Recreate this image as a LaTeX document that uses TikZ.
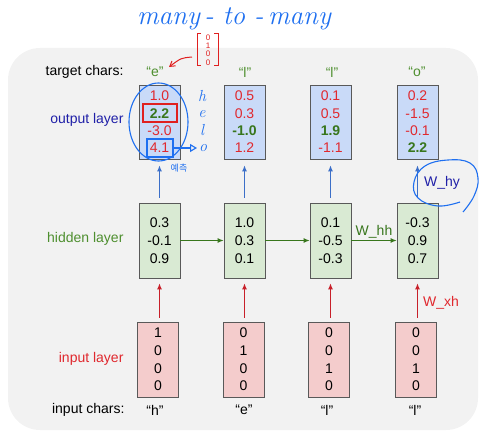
\documentclass[tikz,border=0pt]{standalone}
\usepackage{fontspec}
\setmainfont{Liberation Sans}
\newfontfamily\hand{Latin Modern Roman}
\newfontfamily\kr{Noto Sans CJK KR}
\usetikzlibrary{arrows.meta}
\definecolor{bggray}{HTML}{F2F2F2}
\definecolor{boxline}{HTML}{595959}
\definecolor{outblue}{HTML}{C9DAF8}
\definecolor{hidgreen}{HTML}{D9EAD3}
\definecolor{inpink}{HTML}{F4CCCC}
\definecolor{valred}{HTML}{E0282E}
\definecolor{valgreen}{HTML}{38761D}
\definecolor{lblblue}{HTML}{2020A8}
\definecolor{lblgreen}{HTML}{4E8F2F}
\definecolor{arrblue}{HTML}{3C6FC8}
\definecolor{arrred}{HTML}{C8202A}
\definecolor{hblue}{HTML}{1E6FF0}
\definecolor{hred}{HTML}{E02020}
\newcommand\rv[1]{\textcolor{valred}{#1}}
\newcommand\gv[1]{\textcolor{valgreen}{\textbf{#1}}}
\tikzset{
  box/.style={draw=boxline, line width=0.8pt, minimum width=41pt, inner sep=0pt, align=center},
  obox/.style={box, fill=outblue, minimum height=74pt, font=\fontsize{14}{17.3}\selectfont},
  hbox/.style={box, fill=hidgreen, minimum height=75pt, font=\fontsize{14}{18}\selectfont},
  ibox/.style={box, fill=inpink, minimum height=75pt, font=\fontsize{14}{17.6}\selectfont},
  lbl/.style={anchor=east, font=\fontsize{14}{17}\selectfont},
  chr/.style={font=\fontsize{14}{17}\selectfont},
  barr/.style={draw=arrblue, line width=0.9pt, -{Latex[length=6pt,width=5pt]}},
  rarr/.style={draw=arrred, line width=0.9pt, -{Latex[length=6pt,width=5pt]}},
  garr/.style={draw=valgreen, line width=0.9pt, -{Latex[length=6pt,width=5pt]}},
  handb/.style={draw=hblue, line width=1.1pt},
  handr/.style={draw=hred, line width=1.1pt},
  handtxt/.style={text=hblue, font=\hand\itshape\fontsize{16}{16}\selectfont, inner sep=0pt}
}
\begin{document}
\begin{tikzpicture}[x=1pt,y=-1pt]
\useasboundingbox (0,0) rectangle (492,444);
\fill[bggray, rounded corners=32pt] (8,48) rectangle (478,430);

% left labels
\node[lbl] (lt) at (127,72) {target chars:};
\node[lbl, text=lblblue] (lo) at (127,120) {output layer};
\node[lbl, text=lblgreen] (lh) at (127,239) {hidden layer};
\node[lbl, text=valred] (li) at (127,359) {input layer};
\node[lbl] (lc) at (128,410) {input chars:};

% target chars
\node[chr, text=lblgreen] (t1) at (155,72) {“e”};
\node[chr, text=lblgreen] (t2) at (245,72) {“l”};
\node[chr, text=lblgreen] (t3) at (332,72) {“l”};
\node[chr, text=lblgreen] (t4) at (417,72) {“o”};

% output layer
\node[obox] (o1) at (159.5,122) {\rv{1.0}\\\gv{2.2}\\\rv{-3.0}\\\rv{4.1}};
\node[obox] (o2) at (244.5,122) {\rv{0.5}\\\rv{0.3}\\\gv{-1.0}\\\rv{1.2}};
\node[obox] (o3) at (330.5,122) {\rv{0.1}\\\rv{0.5}\\\gv{1.9}\\\rv{-1.1}};
\node[obox] (o4) at (417.5,122) {\rv{0.2}\\\rv{-1.5}\\\rv{-0.1}\\\gv{2.2}};

% hidden layer
\node[hbox] (h1) at (159.5,240.5) {0.3\\-0.1\\0.9};
\node[hbox] (h2) at (244.5,240.5) {1.0\\0.3\\0.1};
\node[hbox] (h3) at (330.5,240.5) {0.1\\-0.5\\-0.3};
\node[hbox] (h4) at (417.5,240.5) {-0.3\\0.9\\0.7};

% input layer
\node[ibox] (i1) at (158,359.5) {1\\0\\0\\0};
\node[ibox] (i2) at (243.5,359.5) {0\\1\\0\\0};
\node[ibox] (i3) at (329,359.5) {0\\0\\1\\0};
\node[ibox] (i4) at (416,359.5) {0\\0\\1\\0};

% input chars
\node[chr] (c1) at (155,410) {“h”};
\node[chr] (c2) at (244,410) {“e”};
\node[chr] (c3) at (327,410) {“l”};
\node[chr] (c4) at (415,410) {“l”};

% arrows hidden -> output, input -> hidden
\foreach \k in {1,2,3,4}{
  \draw[barr] ([yshift=5pt]h\k.north) -- ([yshift=-6pt]h\k.north |- o\k.south);
  \draw[rarr] ([yshift=4pt]h\k.south |- i\k.north) -- ([yshift=-5pt]h\k.south);
}
\draw[garr] (h1.east) -- (h2.west);
\draw[garr] (h2.east) -- (h3.west);
\draw[garr] (h3.east) -- node[above=1pt, text=valgreen, font=\fontsize{14}{17}\selectfont, inner sep=1pt] (whh) {W\_hh} (h4.west);
\node[anchor=west, text=valred, font=\fontsize{14}{17}\selectfont, inner sep=0pt] (wxh) at (423,303) {W\_xh};
\node[anchor=west, text=lblblue, font=\fontsize{14}{17}\selectfont, inner sep=0pt] (why) at (424,183) {W\_hy};

% handwritten annotations
\node[text=hblue, font=\hand\itshape\fontsize{27}{27}\selectfont, inner sep=0pt] (title) at (234,19) {many\,-\,\,to\,\,-\,many};
\draw[handr, line width=1pt] (201,34) -- (197,34) -- (197,65) -- (201,65);
\draw[handr, line width=1pt] (214,34) -- (218,34) -- (218,65) -- (214,65);
\node[text=hred, font=\fontsize{8}{8.4}\selectfont, align=center, inner sep=0pt] (vec) at (208,50) {0\\1\\0\\0};
\draw[handr, line width=1pt, -{Straight Barb[length=5pt,width=6pt]}] (192,57) .. controls (181,58) .. (169,67);

\draw[handb] (158.5,122) ellipse [x radius=29.5pt, y radius=39pt];
\draw[handr] (143,104) rectangle (177,122);
\draw[handb] (147,139) rectangle (173,157);
\draw[handb, -{Triangle[open,length=7pt,width=8pt]}] (173,148) -- (197,148);
\node[handtxt] (hh) at (202,96) {h};
\node[handtxt] (he) at (202,114) {e};
\node[handtxt] (hl) at (202,130) {l};
\node[handtxt] (ho) at (203,148) {o};
\node[text=hblue, font=\kr\fontsize{9}{9}\selectfont, inner sep=0pt] (pred) at (179,168) {예측};
\draw[handb] plot[smooth, tension=0.7] coordinates {(460,202) (438,206) (418,198) (414,182) (425,166) (448,160) (470,163) (478,178) (474,196) (463,212)};
\end{tikzpicture}
\end{document}
